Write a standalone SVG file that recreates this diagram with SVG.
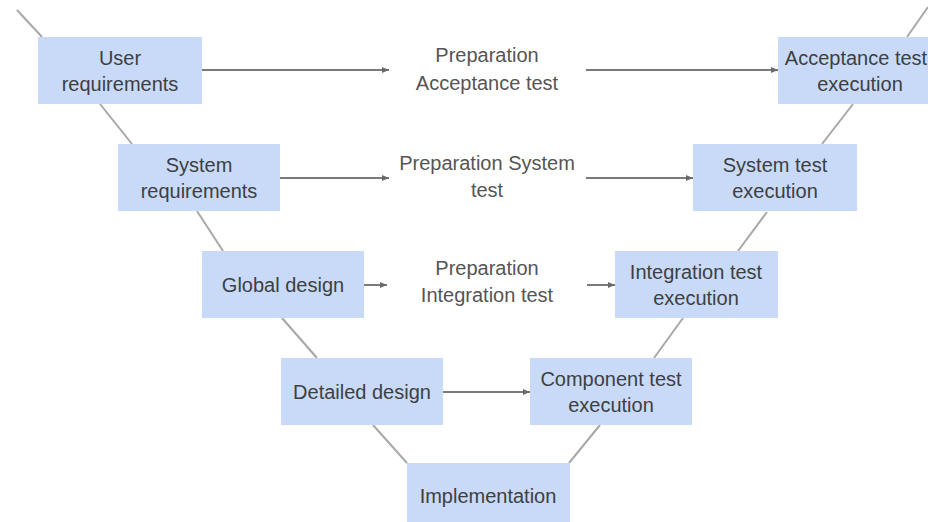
<svg xmlns="http://www.w3.org/2000/svg" width="928" height="522" viewBox="0 0 928 522">
  <style>
    .box { fill: #c9daf8; }
    .node-text { font-family: "Liberation Sans", Arial, sans-serif; font-size: 20px; fill: #3c4043; text-anchor: middle; }
    .mid-text { font-family: "Liberation Sans", Arial, sans-serif; font-size: 20px; fill: #555555; text-anchor: middle; }
    .flow { stroke: #7a7a7a; stroke-width: 2; fill: none; }
    .arm { stroke: #a8a8a8; stroke-width: 2; fill: none; }
  </style>
  <defs>
    <marker id="arrow" markerUnits="userSpaceOnUse" markerWidth="8" markerHeight="8" refX="7" refY="4" orient="auto">
      <path d="M0,1 L7,4 L0,7 Z" fill="#6a6a6a"/>
    </marker>
  </defs>
  <rect width="928" height="522" fill="#ffffff"/>

  <!-- V-shape arms and horizontal flows -->
  <g id="connectors">
    <line class="arm" x1="17" y1="10" x2="42" y2="37"/>
    <line class="arm" x1="100" y1="104" x2="132" y2="144"/>
    <line class="arm" x1="197" y1="211" x2="223" y2="251"/>
    <line class="arm" x1="282" y1="318" x2="317" y2="358"/>
    <line class="arm" x1="373" y1="425" x2="407" y2="463"/>
    <line class="arm" x1="569" y1="463" x2="600" y2="425"/>
    <line class="arm" x1="654" y1="358" x2="683" y2="318"/>
    <line class="arm" x1="738" y1="251" x2="767" y2="212"/>
    <line class="arm" x1="822" y1="144" x2="853" y2="104"/>
    <line class="arm" x1="907" y1="37" x2="928" y2="7"/>

    <line class="flow" x1="202" y1="70" x2="389" y2="70" marker-end="url(#arrow)"/>
    <line class="flow" x1="586" y1="70" x2="778" y2="70" marker-end="url(#arrow)"/>
    <line class="flow" x1="280" y1="178" x2="389" y2="178" marker-end="url(#arrow)"/>
    <line class="flow" x1="586" y1="178" x2="693" y2="178" marker-end="url(#arrow)"/>
    <line class="flow" x1="364" y1="285" x2="387" y2="285" marker-end="url(#arrow)"/>
    <line class="flow" x1="587" y1="285" x2="615" y2="285" marker-end="url(#arrow)"/>
    <line class="flow" x1="443" y1="392" x2="530" y2="392" marker-end="url(#arrow)"/>
  </g>

  <g id="user-requirements">
    <rect class="box" x="38" y="37" width="164" height="67"/>
    <text class="node-text" x="120" y="65">User</text>
    <text class="node-text" x="120" y="91">requirements</text>
  </g>
  <g id="system-requirements">
    <rect class="box" x="118" y="144" width="162" height="67"/>
    <text class="node-text" x="199" y="172">System</text>
    <text class="node-text" x="199" y="198">requirements</text>
  </g>
  <g id="global-design">
    <rect class="box" x="202" y="251" width="162" height="67"/>
    <text class="node-text" x="283" y="292">Global design</text>
  </g>
  <g id="detailed-design">
    <rect class="box" x="281" y="358" width="162" height="67"/>
    <text class="node-text" x="362" y="399">Detailed design</text>
  </g>
  <g id="implementation">
    <rect class="box" x="407" y="463" width="163" height="67"/>
    <text class="node-text" x="488" y="503">Implementation</text>
  </g>
  <g id="component-test-execution">
    <rect class="box" x="530" y="358" width="162" height="67"/>
    <text class="node-text" x="611" y="386">Component test</text>
    <text class="node-text" x="611" y="412">execution</text>
  </g>
  <g id="integration-test-execution">
    <rect class="box" x="615" y="251" width="163" height="67"/>
    <text class="node-text" x="696" y="279">Integration test</text>
    <text class="node-text" x="696" y="305">execution</text>
  </g>
  <g id="system-test-execution">
    <rect class="box" x="693" y="144" width="164" height="67"/>
    <text class="node-text" x="775" y="172">System test</text>
    <text class="node-text" x="775" y="198">execution</text>
  </g>
  <g id="acceptance-test-execution">
    <rect class="box" x="778" y="37" width="164" height="67"/>
    <text class="node-text" x="856" y="65" font-size="19.5">Acceptance test</text>
    <text class="node-text" x="860" y="91">execution</text>
  </g>

  <g id="prep-acceptance">
    <text class="mid-text" x="487" y="62">Preparation</text>
    <text class="mid-text" x="487" y="90">Acceptance test</text>
  </g>
  <g id="prep-system">
    <text class="mid-text" x="487" y="170">Preparation System</text>
    <text class="mid-text" x="487" y="197">test</text>
  </g>
  <g id="prep-integration">
    <text class="mid-text" x="487" y="275">Preparation</text>
    <text class="mid-text" x="487" y="302">Integration test</text>
  </g>
</svg>
